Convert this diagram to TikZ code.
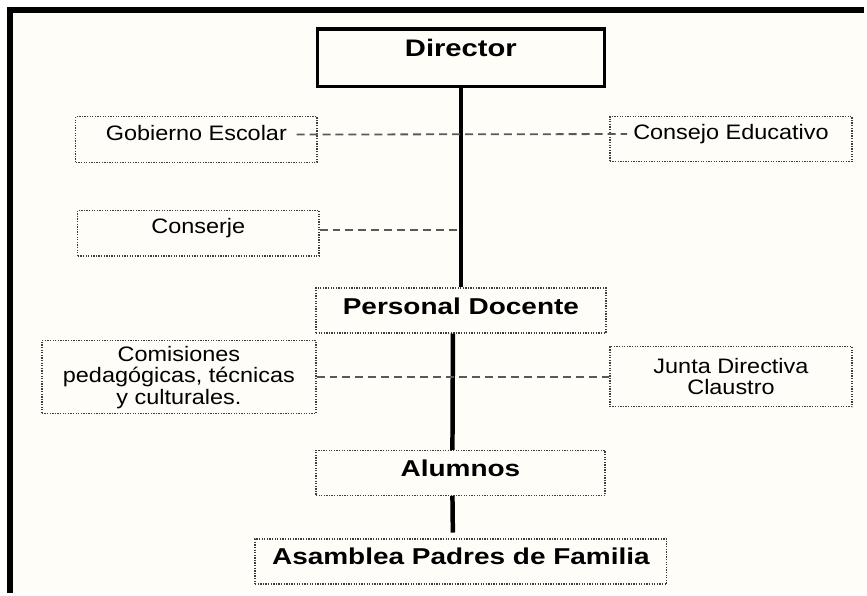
\documentclass[tikz,border=0pt]{standalone}
\usepackage{fontspec}
\setmainfont{Liberation Sans}[FakeStretch=1.12]
\newfontfamily\headfont{Liberation Sans}[FakeStretch=1.22]
\usepackage{tikz}
\definecolor{paper}{HTML}{FFFDF8}
\definecolor{rim}{HTML}{3C3C3C}

\begin{document}
\begin{tikzpicture}[x=1pt,y=-1pt]
			\tikzstyle{unit}=[draw=rim,line width=1.3pt,dash pattern=on 1.3pt off 1.3pt,fill=paper,inner sep=0pt,align=center,font=\fontsize{21}{21.5}\selectfont]
			\tikzstyle{solo}=[unit,text height=14.4pt]
			\tikzstyle{head}=[solo,font=\headfont\bfseries\fontsize{23}{25}\selectfont,text height=15.8pt]
			\tikzstyle{trunk}=[line width=4.5pt]
			\tikzstyle{link}=[draw=black!65,line width=1.8pt,dash pattern=on 8pt off 5pt]
			\fill[white] (0,0) rectangle (867,595);
			\fill[paper] (10,10) rectangle (867,595);
			\draw[line width=6pt] (10,595) -- (10,10) -- (867,10);
			\useasboundingbox (0,0) rectangle (867,595);
			\node[head,draw=black,solid,line width=3.5pt,font=\headfont\bfseries\fontsize{24}{26}\selectfont,text height=16.5pt,text depth=20pt,minimum width=288pt,minimum height=58pt] (N_dir) at (462.5,58) {Director};
			\node[solo,text depth=13pt,minimum width=242pt,minimum height=46pt] (N_gob) at (197,140) {Gobierno Escolar};
			\node[solo,text depth=13pt,minimum width=243pt,minimum height=45pt] (N_con) at (733.5,139.5) {Consejo Educativo};
			\node[solo,text depth=13pt,minimum width=242pt,minimum height=46pt] (N_cons) at (199,234) {Conserje};
			\node[head,text depth=7.4pt,minimum width=291pt,minimum height=45pt] (N_pd) at (462.5,311.5) {Personal Docente};
			\node[unit,minimum width=275pt,minimum height=73pt] (N_com) at (179.5,378.5) {Comisiones\\pedagógicas, técnicas\\y culturales.};
			\node[unit,minimum width=243pt,minimum height=60pt] (N_jun) at (733.5,378) {Junta Directiva\\Claustro};
			\node[head,text depth=9pt,minimum width=290pt,minimum height=45pt] (N_alu) at (462,474.5) {Alumnos};
			\node[head,text depth=9.6pt,minimum width=413pt,minimum height=45pt] (N_asa) at (462.5,563.5) {Asamblea Padres de Familia};
			\coordinate (T_1) at (462.5,231);
			\draw[trunk] (N_dir) -- (N_pd);
			\draw[trunk] ([xshift=-8pt]N_pd.south) -- ([xshift=-8pt]N_alu.north);
			\draw[trunk,shorten >=6pt] ([xshift=-8pt]N_alu.south) -- ([xshift=-8pt]N_asa.north);
			\draw[link] ([xshift=-21pt,yshift=5pt]N_gob.east) -- ([xshift=18pt,yshift=5pt]N_con.west);
			\draw[link] ([yshift=3pt]N_cons.east) -- (T_1);
			\draw[link] (N_com.east) -- (N_com.east -| N_jun.west);
			\end{tikzpicture}
\end{document}
